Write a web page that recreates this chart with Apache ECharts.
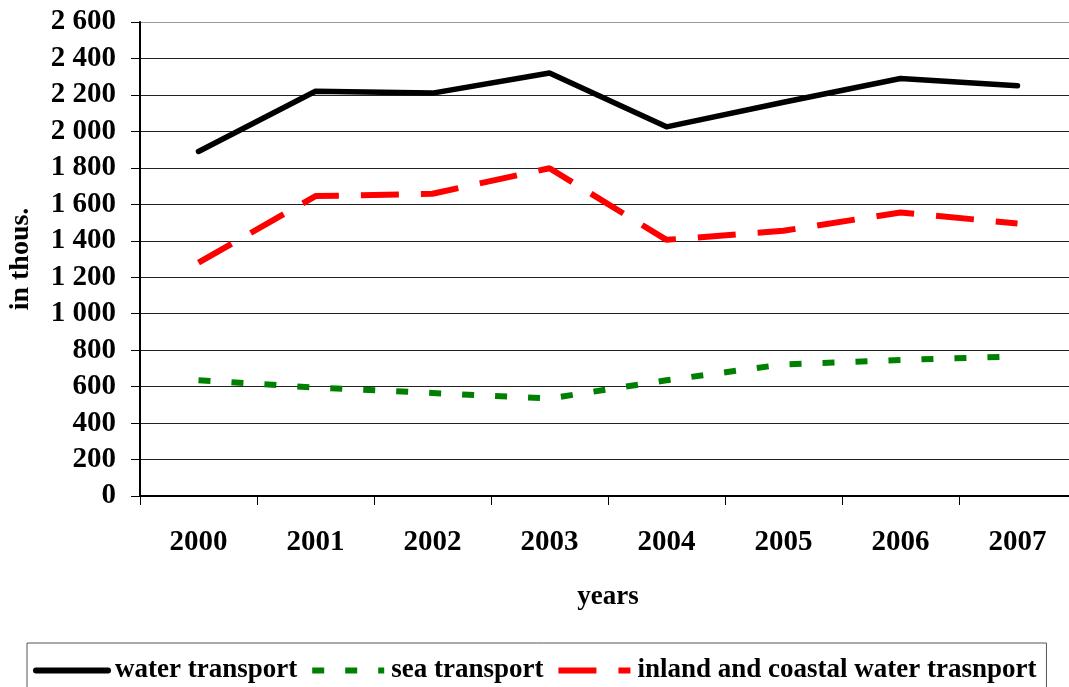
<!DOCTYPE html>
<html>
<head>
<meta charset="utf-8">
<script src="https://cdn.jsdelivr.net/npm/echarts@6/dist/echarts.min.js"></script>
<style>html,body{margin:0;padding:0;background:#fff;}#c{width:1069px;height:687px;}</style>
</head>
<body>
<div id="c"></div>
<script>
const years = ['2000','2001','2002','2003','2004','2005','2006','2007'];
const waterTransport = [1890, 2220, 2210, 2320, 2025, 2160, 2290, 2250];
const seaTransport = [635, 595, 565, 535, 635, 722, 746, 766];
const inlandTransport = [1280, 1645, 1658, 1798, 1405, 1455, 1555, 1495];
const seriesNames = ['water transport', 'sea transport', 'inland and coastal water trasnport'];
const yMin = 0, yMax = 2600, yStep = 200;

const font = '"Liberation Serif", "Times New Roman", serif';
const chart = echarts.init(document.getElementById('c'), null, {renderer: 'canvas'});
const gridColors = [];
for (let v = yMin; v <= yMax; v += yStep) gridColors.push(v === yMax ? '#9a9a9a' : '#222');

const styles = [
  {color: '#000', width: 5.5, type: 'solid'},
  {color: '#008000', width: 6, type: [12, 21]},
  {color: '#ff0000', width: 6, type: [38, 22]}
];

chart.setOption({
  animation: false,
  backgroundColor: '#fff',
  grid: {left: 140, top: 22, width: 936, height: 474, containLabel: false, outerBoundsMode: 'none'},
  legend: {
    left: 27, top: 643,
    padding: [14, 10, 20, 6],
    borderColor: '#555', borderWidth: 1,
    itemWidth: 72, itemHeight: 14, itemGap: 12,
    itemStyle: {opacity: 0},
    textStyle: {fontFamily: font, fontWeight: 'bold', fontSize: 27, color: '#000', padding: [0, 0, 0, 2]},
    data: seriesNames.map((n, i) => ({name: n, lineStyle: {color: styles[i].color, width: 6, type: styles[i].type}}))
  },
  xAxis: {
    type: 'category', data: years, boundaryGap: true,
    name: 'years', nameLocation: 'middle', nameGap: 88,
    nameTextStyle: {fontFamily: font, fontWeight: 'bold', fontSize: 27, color: '#000'},
    axisLine: {lineStyle: {color: '#000', width: 2}},
    axisTick: {show: true, length: 9, lineStyle: {color: '#000', width: 1}},
    axisLabel: {fontFamily: font, fontWeight: 'bold', fontSize: 29, color: '#000', margin: 32},
    splitLine: {show: false}
  },
  yAxis: {
    type: 'value', min: yMin, max: yMax, interval: yStep,
    name: 'in thous.', nameLocation: 'middle', nameGap: 105, nameRotate: 90,
    nameTextStyle: {fontFamily: font, fontWeight: 'bold', fontSize: 28, color: '#000'},
    axisLine: {show: true, lineStyle: {color: '#000', width: 2}},
    axisTick: {show: true, length: 9, lineStyle: {color: '#000', width: 1}},
    axisLabel: {fontFamily: font, fontWeight: 'bold', fontSize: 29, color: '#000', margin: 24,
      formatter: v => String(v).replace(/\B(?=(\d{3})+(?!\d))/g, ' ')},
    splitLine: {show: true, lineStyle: {color: gridColors, width: 1}}
  },
  series: [
    {name: seriesNames[0], type: 'line', data: waterTransport, symbol: 'none',
     lineStyle: {color: styles[0].color, width: styles[0].width, cap: 'round', join: 'round'}, itemStyle: {color: styles[0].color}},
    {name: seriesNames[1], type: 'line', data: seaTransport, symbol: 'none',
     lineStyle: {color: styles[1].color, width: styles[1].width, type: styles[1].type}, itemStyle: {color: styles[1].color}},
    {name: seriesNames[2], type: 'line', data: inlandTransport, symbol: 'none',
     lineStyle: {color: styles[2].color, width: styles[2].width, type: styles[2].type}, itemStyle: {color: styles[2].color}}
  ]
});
</script>
</body>
</html>
